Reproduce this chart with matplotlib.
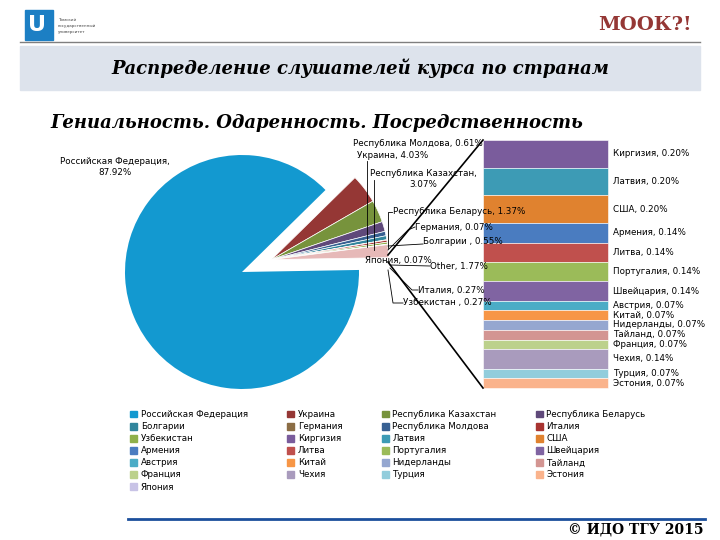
import matplotlib
matplotlib.use("Agg")
import matplotlib.pyplot as plt
from matplotlib.patches import Patch, Rectangle
import numpy as np

pie_labels = ["Российская Федерация", "Украина", "Республика Казахстан", "Республика Беларусь",
              "Республика Молдова", "Болгарии", "Германия", "Италия", "Узбекистан", "Япония", "Other"]
pie_values = [87.92, 4.03, 3.07, 1.37, 0.61, 0.55, 0.07, 0.27, 0.27, 0.07, 1.77]
pie_colors = ["#1399d0", "#953735", "#77933c", "#5f497a", "#376092", "#31859c", "#8b6d45",
              "#a83431", "#8fb04a", "#c8c3e6", "#e6b9b8"]

bar_labels = ["Киргизия", "Латвия", "США", "Армения", "Литва", "Португалия", "Швейцария",
              "Австрия", "Китай", "Нидерланды", "Тайланд", "Франция", "Чехия", "Турция", "Эстония"]
bar_values = [0.20, 0.20, 0.20, 0.14, 0.14, 0.14, 0.14, 0.07, 0.07, 0.07, 0.07, 0.07, 0.14, 0.07, 0.07]
bar_colors = ["#7a5c9c", "#3d9bb5", "#e0822f", "#4a7cc0", "#c0504d", "#9bbb59", "#8064a2",
              "#4bacc6", "#f79646", "#95a7d0", "#d39592", "#bcd18c", "#a99bbd", "#92cddc", "#fab38c"]

fig = plt.figure(figsize=(7.2, 5.4), dpi=100)
ax = fig.add_axes([0, 0, 1, 1])
ax.set_xlim(0, 720); ax.set_ylim(0, 540); ax.axis("off")
Y = lambda p: 540 - p
serif = "DejaVu Serif"

# header
ax.add_patch(Rectangle((25, Y(40)), 28, 30, color="#1c7fc4"))
ax.text(37.5, Y(25), "U", color="white", fontsize=16, fontweight="bold", ha="center", va="center")
for i, t in enumerate(["Томский", "государственный", "университет"]):
    ax.text(58, Y(20 + i * 6), t, fontsize=3, color="#444", va="center")
ax.text(692, Y(25), "МООК?!", fontsize=14, fontweight="bold", color="#953735", ha="right",
        va="center", family=serif)
ax.plot([20, 700], [Y(42), Y(42)], color="#7f7f7f", lw=1)
ax.add_patch(Rectangle((20, Y(90)), 680, 44, color="#dde3ec"))
ax.text(360, Y(68), "Распределение слушателей курса по странам", fontsize=13, style="italic",
        fontweight="bold", ha="center", va="center", family=serif)
ax.text(50, Y(123), "Гениальность. Одаренность. Посредственность", fontsize=13, style="italic",
        fontweight="bold", va="center", family=serif)

# pie: Russia slice, then the small slices as one pulled-out group
cx, cy, r = 242, Y(272), 117
start = 1
w1, _ = ax.pie(pie_values, colors=pie_colors, startangle=start, counterclock=False,
               center=(cx, cy), radius=r, wedgeprops=dict(linewidth=0))
for w in w1[1:]:
    w.set_visible(False)
mid = np.deg2rad(start + 360 * (100 - pie_values[0]) / 100 / 2)
off = 32
w2, _ = ax.pie(pie_values, colors=pie_colors, startangle=start, counterclock=False,
               center=(cx + off * np.cos(mid), cy + off * np.sin(mid)), radius=r,
               wedgeprops=dict(linewidth=0.5, edgecolor="white"))
w2[0].set_visible(False)
ax.set_xlim(0, 720); ax.set_ylim(0, 540); ax.set_aspect("equal")

# bar of "other"
bx, bw = 483, 125
scale = 248 / sum(bar_values)
heights = [v * scale for v in bar_values]
bottoms = Y(140) - np.cumsum(heights)
ax.bar([bx + bw / 2] * len(bar_values), heights, width=bw, bottom=bottoms, color=bar_colors,
       edgecolor="white", linewidth=0.4)
ax.plot([388, bx], [Y(255), Y(140)], color="black", lw=1.2)
ax.plot([388, bx], [Y(262), Y(388)], color="black", lw=1.2)
fs = 6.3
for lab, v, b, h in zip(bar_labels, bar_values, bottoms, heights):
    ax.text(613, b + h / 2, f"{lab}, {v:.2f}%", fontsize=fs, va="center")

# pie labels
txt = [("Российская Федерация,\n87.92%", 115, 167, "center"),
       ("Республика Молдова, 0.61%", 418, 143, "center"),
       ("Украина, 4.03%", 393, 156, "center"),
       ("Республика Казахстан,\n3.07%", 423, 179, "center"),
       ("Республика Беларусь, 1.37%", 393, 211, "left"),
       ("Германия, 0.07%", 415, 227, "left"),
       ("Болгарии , 0.55%", 423, 242, "left"),
       ("Япония, 0.07%", 365, 260, "left"),
       ("Other, 1.77%", 430, 266, "left"),
       ("Италия, 0.27%", 418, 290, "left"),
       ("Узбекистан , 0.27%", 403, 303, "left")]
for t, x, y, ha in txt:
    ax.text(x, Y(y), t, fontsize=fs, ha=ha, va="center")
leaders = [([388, 388, 392], [248, 212, 212]), ([374, 374], [250, 180]),
           ([367, 367], [247, 161]), ([388, 408, 415], [250, 230, 227]),
           ([388, 423], [246, 244]), ([390, 430], [265, 266]), ([390, 412, 418], [268, 290, 290]),
           ([388, 393, 403], [270, 303, 303])]
for xs, ys in leaders:
    ax.plot(xs, [Y(v) for v in ys], color="black", lw=0.6)

# legend (column order)
order = ["Российская Федерация", "Болгарии", "Узбекистан", "Армения", "Австрия", "Франция", "Япония",
         "Украина", "Германия", "Киргизия", "Литва", "Китай", "Чехия",
         "Республика Казахстан", "Республика Молдова", "Латвия", "Португалия", "Нидерланды", "Турция",
         "Республика Беларусь", "Италия", "США", "Швейцария", "Тайланд", "Эстония"]
cmap = dict(zip(pie_labels, pie_colors)); cmap.update(zip(bar_labels, bar_colors))
handles = [Patch(color=cmap[n], label=n) for n in order]
fig.legend(handles=handles, ncol=4, loc="upper left", bbox_to_anchor=(0.17, 0.255),
           frameon=False, fontsize=6.3, handlelength=0.8, handleheight=0.8, handletextpad=0.4,
           labelspacing=0.35, columnspacing=4.5)

# footer
ax.plot([128, 705], [Y(519), Y(519)], color="#1c4f9c", lw=2)
ax.text(703, Y(530), "© ИДО ТГУ 2015", fontsize=10, fontweight="bold", ha="right", va="center",
        family=serif)

fig.savefig("out.png", dpi=100)
